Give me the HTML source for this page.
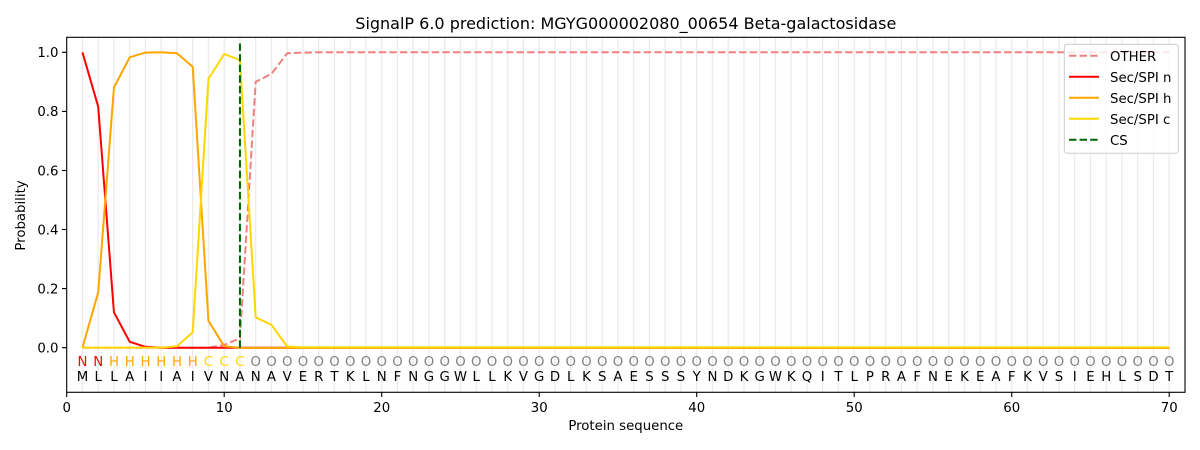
<!DOCTYPE html>
<html><head><meta charset="utf-8"><style>
html,body{margin:0;padding:0;background:#fff;}
svg{display:block;font-family:"DejaVu Sans","Liberation Sans",sans-serif;}
</style></head><body>
<svg width="1200" height="450" viewBox="0 0 1200 450" xmlns="http://www.w3.org/2000/svg">
<rect width="1200" height="450" fill="#fff"/>
<!-- grid -->
<path stroke="#ebebeb" stroke-width="1.3" fill="none" d="M82.45 37.3V392.3M98.2 37.3V392.3M113.95 37.3V392.3M129.7 37.3V392.3M145.45 37.3V392.3M161.2 37.3V392.3M176.95 37.3V392.3M192.7 37.3V392.3M208.45 37.3V392.3M224.2 37.3V392.3M239.95 37.3V392.3M255.7 37.3V392.3M271.45 37.3V392.3M287.2 37.3V392.3M302.95 37.3V392.3M318.7 37.3V392.3M334.45 37.3V392.3M350.2 37.3V392.3M365.95 37.3V392.3M381.7 37.3V392.3M397.45 37.3V392.3M413.2 37.3V392.3M428.95 37.3V392.3M444.7 37.3V392.3M460.45 37.3V392.3M476.2 37.3V392.3M491.95 37.3V392.3M507.7 37.3V392.3M523.45 37.3V392.3M539.2 37.3V392.3M554.95 37.3V392.3M570.7 37.3V392.3M586.45 37.3V392.3M602.2 37.3V392.3M617.95 37.3V392.3M633.7 37.3V392.3M649.45 37.3V392.3M665.2 37.3V392.3M680.95 37.3V392.3M696.7 37.3V392.3M712.45 37.3V392.3M728.2 37.3V392.3M743.95 37.3V392.3M759.7 37.3V392.3M775.45 37.3V392.3M791.2 37.3V392.3M806.95 37.3V392.3M822.7 37.3V392.3M838.45 37.3V392.3M854.2 37.3V392.3M869.95 37.3V392.3M885.7 37.3V392.3M901.45 37.3V392.3M917.2 37.3V392.3M932.95 37.3V392.3M948.7 37.3V392.3M964.45 37.3V392.3M980.2 37.3V392.3M995.95 37.3V392.3M1011.7 37.3V392.3M1027.45 37.3V392.3M1043.2 37.3V392.3M1058.95 37.3V392.3M1074.7 37.3V392.3M1090.45 37.3V392.3M1106.2 37.3V392.3M1121.95 37.3V392.3M1137.7 37.3V392.3M1153.45 37.3V392.3M1169.2 37.3V392.3"/>

<!-- series -->
<polyline fill="none" stroke="#f08080" stroke-width="2" stroke-dasharray="7.4,3.2" points="82.45,347.7 208.45,347.7 224.2,345.0 239.95,338.2 255.7,81.8 271.45,73.9 287.2,53.2 302.95,52.6 318.7,52.3 1169.2,52.3"/>
<polyline fill="none" stroke="#ff0000" stroke-width="2" stroke-linejoin="round" points="82.45,52.3 98.2,106.7 113.95,312.3 129.7,341.8 145.45,346.8 161.2,347.7 1169.2,347.9"/>
<polyline fill="none" stroke="#ffa500" stroke-width="2" stroke-linejoin="round" points="82.45,347.7 98.2,292.3 113.95,87.5 129.7,57.3 145.45,52.6 161.2,52.3 176.95,53.2 192.7,66.8 208.45,320.8 224.2,346.2 239.95,347.9 1169.2,347.9"/>
<polyline fill="none" stroke="#ffd700" stroke-width="2" stroke-linejoin="round" points="82.45,347.6 161.2,347.6 176.95,346.2 192.7,332.3 208.45,78.9 224.2,54.1 239.95,60.0 255.7,317.3 271.45,324.9 287.2,346.5 302.95,347.4 1169.2,347.4"/>
<line x1="239.95" y1="347.7" x2="239.95" y2="40.5" stroke="#006400" stroke-width="2" stroke-dasharray="7.4,3.2"/>

<!-- residue tags -->
<text font-size="13.3" text-anchor="middle" y="366"><tspan fill="#ff0000" x="82.45 98.2">NN</tspan><tspan fill="#ffa500" x="113.95 129.7 145.45 161.2 176.95 192.7">HHHHHH</tspan><tspan fill="#ffd700" x="208.45 224.2 239.95">CCC</tspan><tspan fill="#808080" x="255.7 271.45 287.2 302.95 318.7 334.45 350.2 365.95 381.7 397.45 413.2 428.95 444.7 460.45 476.2 491.95 507.7 523.45 539.2 554.95 570.7 586.45 602.2 617.95 633.7 649.45 665.2 680.95 696.7 712.45 728.2 743.95 759.7 775.45 791.2 806.95 822.7 838.45 854.2 869.95 885.7 901.45 917.2 932.95 948.7 964.45 980.2 995.95 1011.7 1027.45 1043.2 1058.95 1074.7 1090.45 1106.2 1121.95 1137.7 1153.45 1169.2">OOOOOOOOOOOOOOOOOOOOOOOOOOOOOOOOOOOOOOOOOOOOOOOOOOOOOOOOOOO</tspan></text>
<text font-size="13.3" text-anchor="middle" y="381" fill="#000" x="82.45 98.2 113.95 129.7 145.45 161.2 176.95 192.7 208.45 224.2 239.95 255.7 271.45 287.2 302.95 318.7 334.45 350.2 365.95 381.7 397.45 413.2 428.95 444.7 460.45 476.2 491.95 507.7 523.45 539.2 554.95 570.7 586.45 602.2 617.95 633.7 649.45 665.2 680.95 696.7 712.45 728.2 743.95 759.7 775.45 791.2 806.95 822.7 838.45 854.2 869.95 885.7 901.45 917.2 932.95 948.7 964.45 980.2 995.95 1011.7 1027.45 1043.2 1058.95 1074.7 1090.45 1106.2 1121.95 1137.7 1153.45 1169.2">MLLAIIAIVNANAVERTKLNFNGGWLLKVGDLKSAESSSYNDKGWKQITLPRAFNEKEAFKVSIEHLSDT</text>

<!-- axes frame -->
<rect x="66.7" y="37.3" width="1118.3" height="355" fill="none" stroke="#000" stroke-width="1.1"/>

<!-- y ticks -->
<path stroke="#000" stroke-width="1.1" d="M62 347.7H66.7M62 288.6H66.7M62 229.5H66.7M62 170.5H66.7M62 111.4H66.7M62 52.3H66.7"/>
<g font-size="13.3" text-anchor="end" fill="#000">
<text x="58.5" y="352.5">0.0</text>
<text x="58.5" y="293.4">0.2</text>
<text x="58.5" y="234.3">0.4</text>
<text x="58.5" y="175.3">0.6</text>
<text x="58.5" y="116.2">0.8</text>
<text x="58.5" y="57.1">1.0</text>
</g>
<!-- x ticks -->
<path stroke="#000" stroke-width="1.1" d="M66.7 392.3V397M224.2 392.3V397M381.7 392.3V397M539.2 392.3V397M696.7 392.3V397M854.2 392.3V397M1011.7 392.3V397M1169.2 392.3V397"/>
<g font-size="13.3" text-anchor="middle" fill="#000">
<text x="66.7" y="412">0</text>
<text x="224.2" y="412">10</text>
<text x="381.7" y="412">20</text>
<text x="539.2" y="412">30</text>
<text x="696.7" y="412">40</text>
<text x="854.2" y="412">50</text>
<text x="1011.7" y="412">60</text>
<text x="1169.2" y="412">70</text>
</g>

<!-- labels -->
<text x="625.8" y="430" font-size="13.3" text-anchor="middle">Protein sequence</text>
<text transform="translate(25,215.5) rotate(-90)" font-size="13.3" text-anchor="middle">Probability</text>
<text x="625.8" y="29" font-size="16" text-anchor="middle">SignalP 6.0 prediction: MGYG000002080_00654 Beta-galactosidase</text>

<!-- legend -->
<rect x="1064.3" y="44.3" width="114" height="109" rx="3" ry="3" fill="#fff" fill-opacity="0.8" stroke="#cccccc" stroke-width="1"/>
<line x1="1069" y1="55.7" x2="1099" y2="55.7" stroke="#f08080" stroke-width="2" stroke-dasharray="7.4,3.2"/>
<line x1="1069" y1="76.7" x2="1099" y2="76.7" stroke="#ff0000" stroke-width="2"/>
<line x1="1069" y1="97.7" x2="1099" y2="97.7" stroke="#ffa500" stroke-width="2"/>
<line x1="1069" y1="118.7" x2="1099" y2="118.7" stroke="#ffd700" stroke-width="2"/>
<line x1="1069" y1="139.7" x2="1099" y2="139.7" stroke="#006400" stroke-width="2" stroke-dasharray="7.4,3.2"/>
<g font-size="13.3" fill="#000">
<text x="1110" y="61">OTHER</text>
<text x="1110" y="82">Sec/SPI n</text>
<text x="1110" y="103">Sec/SPI h</text>
<text x="1110" y="124">Sec/SPI c</text>
<text x="1110" y="145">CS</text>
</g>
</svg>
</body></html>
